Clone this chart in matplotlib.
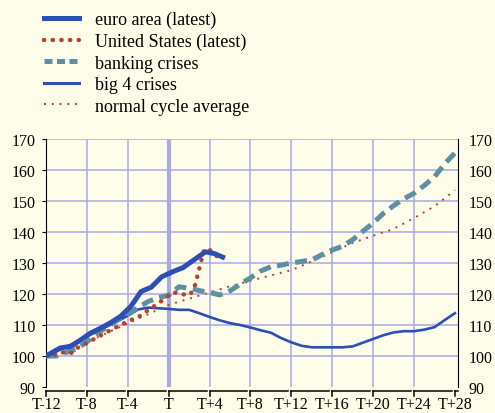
import numpy as np
import matplotlib.pyplot as plt
import matplotlib.transforms as mtransforms
from matplotlib.lines import Line2D

plt.rcParams['font.family'] = ['Liberation Serif', 'DejaVu Serif']

# quarters relative to T (start of crisis)
euro_x = [-12, -10.6, -9.6, -8.6, -7.7, -6.7, -5.7, -4.7, -3.7, -2.7, -1.7, -0.7,
          0.4, 1.4, 2.6, 3.6, 4.5, 5.5]
euro_y = [100, 102.6, 103.1, 105.2, 107.3, 108.9, 110.7, 112.8, 116.0, 120.8, 122.2, 125.5,
          127.2, 128.5, 131.3, 133.6, 133.0, 131.6]

us_x = [-12, -11, -10, -9.5, -9, -8, -7, -6, -5, -4, -3, -2, -1, 0, 0.5, 1, 2.1,
        2.6, 3.45, 3.9, 4.4, 5.1]
us_y = [100, 100.5, 101.5, 101.0, 102.5, 104.2, 106.0, 107.8, 109.5, 111.2, 112.5, 114.8,
        117.0, 119.5, 120.6, 120.0, 119.7, 123.0, 134.2, 134.6, 133.0, 131.3]

bank_x = list(range(-12, 29))
bank_y = [100, 100, 101.2, 102.3, 104.6, 107.3, 109.4, 111.6, 113.5, 115.6, 117.6, 118.8,
          119.6, 122.3, 121.9, 121.1, 120.5, 119.7, 121.0, 123.2, 125.2, 127.4, 128.8,
          129.3, 130.0, 130.5, 131.0, 132.7, 134.2, 135.4, 137.5, 140.2, 142.9, 146.0,
          148.5, 150.7, 152.5, 155.0, 157.8, 162.0, 165.5]

big4_x = list(range(-12, 29))
big4_y = [100, 101.5, 103.0, 104.5, 106.3, 108.0, 109.6, 111.2, 113.0, 115.0, 115.6, 115.4,
          115.2, 114.9, 114.9, 113.8, 112.6, 111.5, 110.6, 110.0, 109.2, 108.3, 107.5,
          105.8, 104.4, 103.3, 102.8, 102.8, 102.8, 102.8, 103.1, 104.3, 105.5, 106.7,
          107.6, 108.0, 108.0, 108.5, 109.3, 111.6, 113.8]

norm_x = [-12, -10, -8, -6, -4, -2, 0, 2, 4, 6, 8, 10, 12, 14, 16, 18, 20, 22, 24, 26, 28]
norm_y = [100, 101.5, 104.5, 107.5, 110.5, 113.5, 116.5, 118.5, 120.5, 122.5, 124.3, 126.0,
          127.7, 130.5, 133.5, 136.5, 138.8, 141.0, 144.5, 148.3, 153.5]

xticks = list(range(-12, 29, 4))
xlabels = ['T-12', 'T-8', 'T-4', 'T', 'T+4', 'T+8', 'T+12', 'T+16', 'T+20', 'T+24', 'T+28']
yticks = list(range(90, 171, 10))

bg = '#fdfde9'
gridc = '#a9a9e8'
blue = '#2d4fb3'
red = '#b8412f'
teal = '#5d8fa5'

fig = plt.figure(figsize=(4.95, 4.14), dpi=100, facecolor=bg)
ax = fig.add_axes([46 / 495, 1 - 388 / 414, (458 - 46) / 495, 248 / 414])
ax.set_facecolor(bg)
ax.set_xlim(-12, 28.3)
ax.set_ylim(90, 170)

# grid
for y in yticks[1:]:
    ax.axhline(y, color=gridc, lw=1.1, zorder=1)
for x in xticks[1:-1]:
    ax.axvline(x, color=gridc, lw=3 if x == 0 else 1.1, zorder=1)

ax.plot(norm_x, norm_y, color=red, lw=1.4, linestyle=(0, (1, 3.0)), zorder=3)
ax.plot(big4_x, big4_y, color=blue, lw=1.9, zorder=3)
ax.plot(bank_x, bank_y, color=teal, lw=3.6, linestyle=(0, (2.4, 1.3)), zorder=4)
ax.plot(us_x, us_y, color=red, lw=3.2, linestyle=(0, (0.05, 1.9)),
        dash_capstyle='round', zorder=5)
ax.plot(euro_x, euro_y, color=blue, lw=3.6, solid_capstyle='butt', zorder=6)

for s in ['top', 'bottom']:
    ax.spines[s].set_visible(False)
ax.spines['left'].set_color('black')
ax.spines['right'].set_color('black')

ax.set_yticks(yticks)
ax.tick_params(axis='y', which='both', labelsize=11.5, left=True, right=False,
               labelleft=True, labelright=True, length=3, pad=4.5)
ax.set_xticks(xticks)
ax.set_xticklabels(xlabels)
ax.tick_params(axis='x', length=0, labelsize=11.5, pad=6.5)

# bracket-style ticks under the axis
trans = mtransforms.blended_transform_factory(ax.transData, ax.transAxes)
for i, x in enumerate(xticks):
    x_end = xticks[i + 1] - 0.3 if i + 1 < len(xticks) else 28.3
    ax.plot([x, x], [-0.016, -0.036], color='black', lw=1.1, transform=trans, clip_on=False)
    ax.plot([x, x_end], [-0.016, -0.016], color='black', lw=1.1, transform=trans, clip_on=False)

handles = [
    Line2D([], [], color=blue, lw=3.6),
    Line2D([], [], color=red, lw=3.2, linestyle=(0, (0.05, 1.9)), dash_capstyle='round'),
    Line2D([], [], color=teal, lw=3.6, linestyle=(0, (1.6, 0.9))),
    Line2D([], [], color=blue, lw=2.2),
    Line2D([], [], color=red, lw=1.4, linestyle=(0, (1, 3.0))),
]
labels = ['euro area (latest)', 'United States (latest)', 'banking crises',
          'big 4 crises', 'normal cycle average']
fig.legend(handles, labels, loc='upper left', bbox_to_anchor=(44 / 495, 1 - 12 / 414),
           frameon=False, fontsize=13, handlelength=1.95, handletextpad=0.85,
           labelspacing=0.25, borderpad=0, borderaxespad=0)

fig.savefig('out.png', dpi=100, facecolor=bg)
